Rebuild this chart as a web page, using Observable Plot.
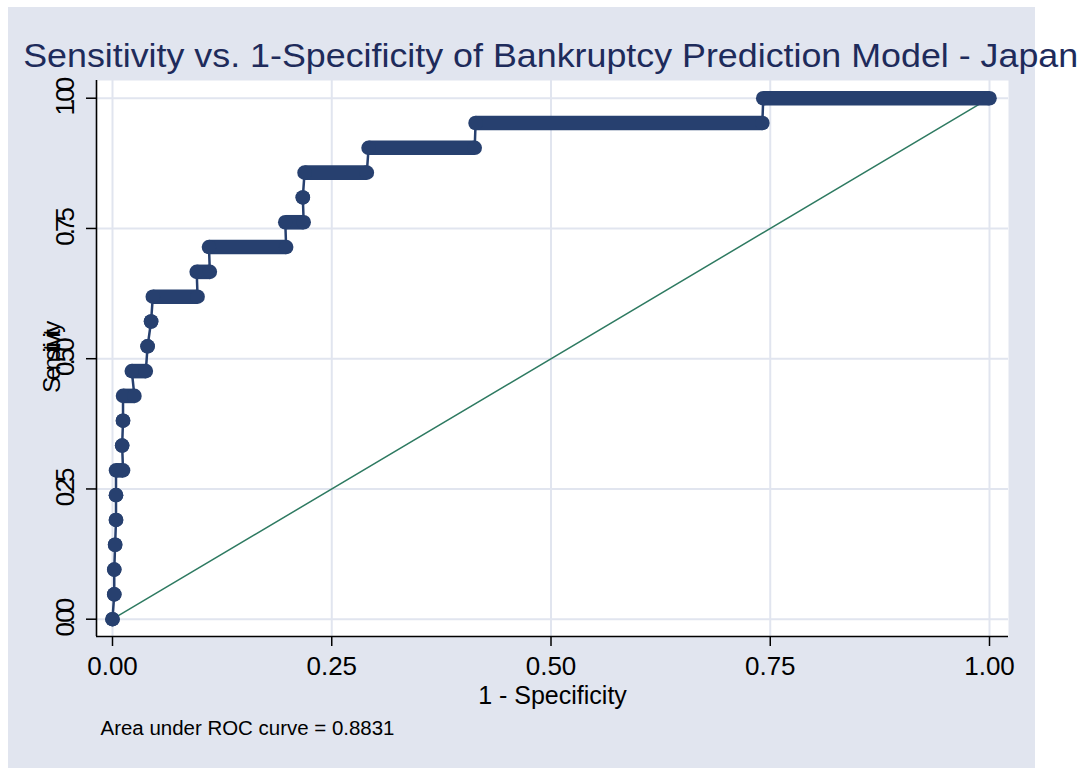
<!DOCTYPE html>
<html>
<head>
<meta charset="utf-8">
<script src="https://cdn.jsdelivr.net/npm/d3@7"></script>
<script src="https://cdn.jsdelivr.net/npm/@observablehq/plot@0.6"></script>
<style>
  html, body { margin: 0; padding: 0; background: #ffffff; }
  #chart { position: absolute; left: 8px; top: 7px; width: 1027px; height: 761px; }
</style>
</head>
<body>
<div id="chart"></div>
<script>
// ---- data ----
const titleText = "Sensitivity vs. 1-Specificity of Bankruptcy Prediction Model - Japan";
const xTitle = "1 - Specificity";
const yTitle = "Sensitivity";
const captionText = "Area under ROC curve = 0.8831";
const tickValues = [0, 0.25, 0.5, 0.75, 1];

// each step of the ROC curve: sensitivity level and the 1-specificity range it spans
const sensitivity = [0, 0.0476, 0.0952, 0.1429, 0.1905, 0.2381, 0.2857, 0.3333, 0.3810, 0.4286, 0.4762,
  0.5238, 0.5714, 0.6190, 0.6667, 0.7143, 0.7619, 0.8095, 0.8571, 0.9048, 0.9524, 1.0];
const fprStart = [0, 0.002, 0.002, 0.003, 0.004, 0.004, 0.004, 0.011, 0.012, 0.012, 0.022,
  0.040, 0.044, 0.046, 0.096, 0.110, 0.197, 0.217, 0.219, 0.292, 0.414, 0.742];
const fprEnd = [0, 0.002, 0.002, 0.003, 0.004, 0.004, 0.012, 0.011, 0.012, 0.025, 0.038,
  0.040, 0.044, 0.097, 0.111, 0.198, 0.218, 0.217, 0.290, 0.413, 0.741, 1.0];

// reference (chance) diagonal
const refX = [0, 1];
const refY = [0, 1];

// ---- build tables ----
const steps = sensitivity.map((s, i) => ({tpr: s, x1: fprStart[i], x2: fprEnd[i]}));
const path = steps.flatMap(d => [{x: d.x1, y: d.tpr}, {x: d.x2, y: d.tpr}]);
const diag = refX.map((x, i) => ({x, y: refY[i]}));

const navy = "#27406f";
const grid = "#e1e5ef";
const fmt = d3.format(".2f");

const plot = Plot.plot({
  width: 1027,
  height: 761,
  marginLeft: 88,
  marginRight: 27,
  marginTop: 73,
  marginBottom: 132,
  x: {domain: [-0.01824, 1.02166]},
  y: {domain: [-0.0332, 1.034]},
  style: {
    background: "#e1e5ef",
    overflow: "visible",
    fontFamily: "'Liberation Sans', Arial, sans-serif",
    color: "black"
  },
  marks: [
    Plot.frame({fill: "white", stroke: "none"}),
    Plot.gridX(tickValues, {stroke: grid, strokeOpacity: 1, strokeWidth: 2}),
    Plot.gridY(tickValues, {stroke: grid, strokeOpacity: 1, strokeWidth: 2}),
    Plot.line(diag, {x: "x", y: "y", stroke: "#2e7a61", strokeWidth: 1.5}),
    Plot.line(path, {x: "x", y: "y", stroke: navy, strokeWidth: 2.5}),
    Plot.link(steps, {x1: "x1", x2: "x2", y1: "tpr", y2: "tpr", stroke: navy, strokeWidth: 14.6}),
    Plot.dot(path, {x: "x", y: "y", r: 7.3, fill: navy, stroke: "none"}),
    Plot.ruleX([-0.01824], {stroke: "black", strokeWidth: 1.6}),
    Plot.ruleY([-0.0332], {stroke: "black", strokeWidth: 1.6}),
    Plot.axisX(tickValues, {tickSize: 10, tickPadding: 10, tickFormat: fmt, fontSize: 26, strokeWidth: 1.5, label: null, fill: "black"}),
    Plot.axisY(tickValues, {tickSize: 10, tickFormat: () => "", strokeWidth: 1.5, label: null}),
    Plot.text(tickValues, {y: d => d, text: d => fmt(d), frameAnchor: "left", rotate: -90, dx: -23,
      textAnchor: "middle", lineAnchor: "bottom", fontSize: 26, fill: "black"}),
    Plot.text([yTitle], {text: d => d, frameAnchor: "left", rotate: -90, dx: -37,
      textAnchor: "middle", lineAnchor: "bottom", fontSize: 24, fill: "black"}),
    Plot.text([xTitle], {text: d => d, frameAnchor: "bottom", dy: 67,
      textAnchor: "middle", lineAnchor: "bottom", fontSize: 25, fill: "black"}),
    Plot.text([captionText], {text: d => d, frameAnchor: "bottom-left", dx: 4, dy: 98,
      textAnchor: "start", lineAnchor: "bottom", fontSize: 20, fill: "black"}),
    Plot.text([titleText], {text: d => d, frameAnchor: "top-left", dx: -73.3, dy: -14,
      textAnchor: "start", lineAnchor: "bottom", fontSize: 33, fill: "#1e2b5b"})
  ]
});

document.getElementById("chart").appendChild(plot);

// text adjustments matched by content
const yLabelSet = new Set(tickValues.map(fmt));
plot.querySelectorAll("text").forEach(el => {
  const s = el.textContent;
  if (s === titleText) {
    el.setAttribute("textLength", "1055");
    el.setAttribute("lengthAdjust", "spacingAndGlyphs");
  } else if (s === captionText) {
    el.setAttribute("textLength", "294");
    el.setAttribute("lengthAdjust", "spacingAndGlyphs");
  } else if (s === yTitle) {
    el.style.letterSpacing = "-3.6px";
  } else if (yLabelSet.has(s) && (el.getAttribute("transform") || "").includes("rotate")) {
    el.style.letterSpacing = "-4px";
  }
});
</script>
</body>
</html>
